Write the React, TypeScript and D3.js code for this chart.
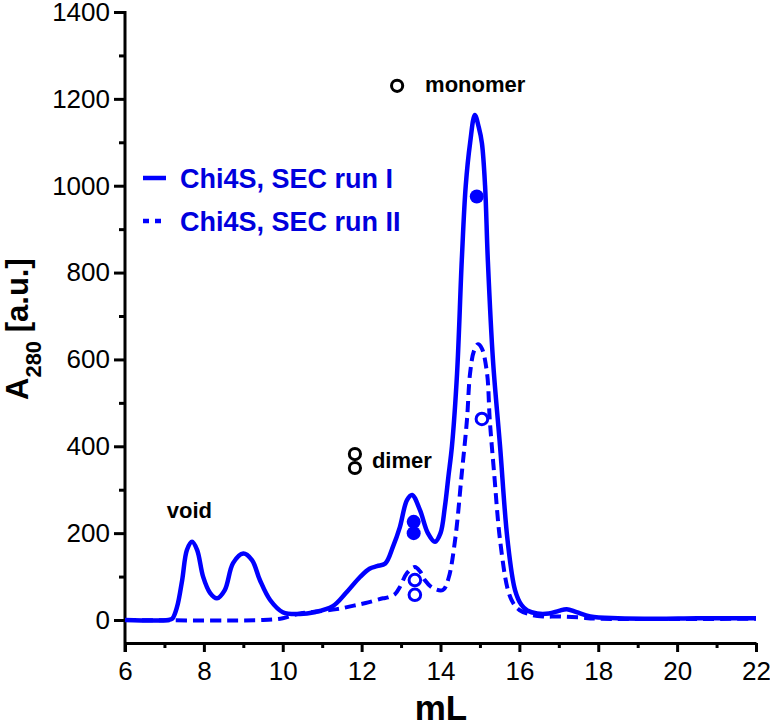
import { useEffect, useRef } from 'react';
import * as d3 from 'd3';

// elution volume (mL) vs A280 [a.u.]
const runI: [number, number][] = [
  [6.0, 0], [7.1, 0], [7.2, 3], [7.32, 30], [7.45, 92], [7.57, 161], [7.7, 180],
  [7.83, 161], [7.98, 100], [8.16, 62], [8.33, 50], [8.53, 69], [8.74, 131], [9.0, 153],
  [9.22, 138], [9.42, 92], [9.68, 46], [10.0, 18], [10.44, 14], [10.8, 18], [11.27, 32],
  [11.6, 62], [11.96, 99], [12.2, 118], [12.39, 124], [12.6, 130], [12.8, 170], [12.97, 214],
  [13.15, 276], [13.28, 288], [13.48, 253], [13.68, 200], [13.86, 180], [14.0, 200],
  [14.11, 260], [14.2, 330], [14.29, 400], [14.42, 568], [14.54, 829], [14.64, 1000],
  [14.75, 1098], [14.87, 1163], [14.97, 1135], [15.05, 1098], [15.13, 1000], [15.2, 829],
  [15.33, 599], [15.51, 400], [15.7, 184], [15.89, 69], [16.05, 35], [16.2, 22], [16.45, 15],
  [16.75, 15], [17.0, 21], [17.2, 25], [17.45, 18], [17.8, 8], [18.5, 4], [19.5, 3],
  [20.5, 4], [22.0, 4],
];

const runII: [number, number][] = [
  [6.0, 0], [9.5, 0], [10.0, 4], [10.26, 11], [10.44, 15], [10.8, 19], [11.37, 25],
  [11.8, 33], [12.1, 39], [12.54, 50], [12.67, 52], [12.85, 60], [12.97, 76], [13.15, 108],
  [13.35, 122], [13.48, 112], [13.6, 92], [13.8, 74], [14.06, 69], [14.2, 95], [14.37, 184],
  [14.54, 338], [14.67, 460], [14.75, 568], [14.85, 620], [14.95, 635], [15.05, 625],
  [15.18, 568], [15.25, 460], [15.36, 338], [15.51, 184], [15.71, 69], [15.85, 38],
  [16.0, 23], [16.3, 12], [16.6, 8], [17.0, 8], [17.5, 6], [18.0, 3], [22.0, 3],
];

// collected fractions
const runIFractions: [number, number][] = [[14.92, 975], [13.32, 226], [13.32, 200]];
const runIIFractions: [number, number][] = [[15.05, 463], [13.35, 92], [13.35, 58]];

// open black symbols next to peak names
const peakSymbols: [number, number][] = [[12.9, 1230], [11.83, 382], [11.83, 350]];
const peakNames = ['void', 'dimer', 'monomer'];
const peakNamePos: [number, number][] = [[7.06, 235], [12.26, 350], [13.61, 1216]];

const xTicks = [6, 8, 10, 12, 14, 16, 18, 20, 22];
const xMinorTicks = [7, 9, 11, 13, 15, 17, 19, 21];
const yTicks = [0, 200, 400, 600, 800, 1000, 1200, 1400];
const yMinorTicks = [100, 300, 500, 700, 900, 1100, 1300];
const legendLabels = ['Chi4S, SEC run I', 'Chi4S, SEC run II'];

const BLUE = '#0000ff';
const FONT = '"Liberation Sans", Arial, sans-serif';

export default function App() {
  const ref = useRef<SVGSVGElement | null>(null);

  useEffect(() => {
    if (!ref.current) return;
    const svg = d3.select(ref.current);
    svg.selectAll('*').remove();

    const x = d3.scaleLinear().domain([6, 22]).range([125, 756]);
    const y = d3.scaleLinear().domain([0, 1400]).range([620, 12]);
    const axisY = 643;

    // x axis
    const gx = svg.append('g').attr('transform', `translate(0,${axisY})`);
    gx.call(d3.axisBottom(x).tickValues(xTicks).tickFormat(d3.format('d')).tickSize(9).tickSizeOuter(0).tickPadding(10));
    gx.append('g').call(d3.axisBottom(x).tickValues(xMinorTicks).tickFormat(() => '').tickSize(5).tickSizeOuter(0))
      .select('.domain').remove();
    gx.selectAll('path, line').attr('stroke', '#000').attr('stroke-width', 3);
    gx.selectAll('text').attr('font-family', FONT).attr('font-size', 26).attr('fill', '#000');

    // y axis
    const gy = svg.append('g').attr('transform', 'translate(125,0)');
    gy.call(d3.axisLeft(y).tickValues(yTicks).tickFormat(d3.format('d')).tickSize(11).tickPadding(4));
    gy.append('g').call(d3.axisLeft(y).tickValues(yMinorTicks).tickFormat(() => '').tickSize(6));
    gy.selectAll('.domain').remove();
    gy.selectAll('line').attr('stroke', '#000').attr('stroke-width', 3);
    gy.selectAll('text').attr('font-family', FONT).attr('font-size', 26).attr('fill', '#000');
    svg.append('line')
      .attr('x1', 125).attr('x2', 125).attr('y1', 11).attr('y2', axisY + 9)
      .attr('stroke', '#000').attr('stroke-width', 3);

    // axis titles
    svg.append('text')
      .attr('x', 441).attr('y', 720)
      .attr('text-anchor', 'middle')
      .attr('font-family', FONT).attr('font-weight', 'bold').attr('font-size', 35)
      .text('mL');

    const yl = svg.append('text')
      .attr('transform', 'translate(28,400) rotate(-90)')
      .attr('font-family', FONT).attr('font-weight', 'bold').attr('font-size', 31);
    yl.append('tspan').text('A');
    yl.append('tspan').attr('font-size', 22).attr('dy', 13).text('280');
    yl.append('tspan').attr('dy', -13).text(' [a.u.]');

    // curves
    const line = d3.line<[number, number]>()
      .x(d => x(d[0]))
      .y(d => y(d[1]))
      .curve(d3.curveCatmullRom.alpha(0.5));

    svg.append('path')
      .datum(runII)
      .attr('d', line)
      .attr('fill', 'none')
      .attr('stroke', BLUE)
      .attr('stroke-width', 4)
      .attr('stroke-dasharray', '11,6');

    svg.append('path')
      .datum(runI)
      .attr('d', line)
      .attr('fill', 'none')
      .attr('stroke', BLUE)
      .attr('stroke-width', 4.5)
      .attr('stroke-linejoin', 'round');

    // fraction markers
    svg.selectAll('.fracI')
      .data(runIFractions)
      .enter().append('circle')
      .attr('cx', d => x(d[0])).attr('cy', d => y(d[1]))
      .attr('r', 7).attr('fill', BLUE);

    svg.selectAll('.fracII')
      .data(runIIFractions)
      .enter().append('circle')
      .attr('cx', d => x(d[0])).attr('cy', d => y(d[1]))
      .attr('r', 5.8).attr('fill', '#fff')
      .attr('stroke', BLUE).attr('stroke-width', 3);

    // peak annotations
    svg.selectAll('.sym')
      .data(peakSymbols)
      .enter().append('circle')
      .attr('cx', d => x(d[0])).attr('cy', d => y(d[1]))
      .attr('r', 5.6).attr('fill', 'none')
      .attr('stroke', '#000').attr('stroke-width', 3);

    svg.selectAll('.peakname')
      .data(peakNames)
      .enter().append('text')
      .attr('x', (_, i) => x(peakNamePos[i][0]))
      .attr('y', (_, i) => y(peakNamePos[i][1]))
      .attr('font-family', FONT).attr('font-weight', 'bold').attr('font-size', 22)
      .attr('fill', '#000')
      .text(d => d);

    // legend
    const lg = svg.append('g');
    lg.append('line').attr('x1', 143).attr('x2', 166).attr('y1', 178).attr('y2', 178)
      .attr('stroke', BLUE).attr('stroke-width', 4.5);
    lg.append('line').attr('x1', 143).attr('x2', 162).attr('y1', 221).attr('y2', 221)
      .attr('stroke', BLUE).attr('stroke-width', 4.5).attr('stroke-dasharray', '6,6');
    lg.selectAll('text')
      .data(legendLabels)
      .enter().append('text')
      .attr('x', 180)
      .attr('y', (_, i) => 188 + i * 43)
      .attr('font-family', FONT).attr('font-weight', 'bold').attr('font-size', 27)
      .attr('fill', '#0000dd')
      .text(d => d);
  }, []);

  return (
    <div style={{ position: 'absolute', left: 0, top: 0, background: '#fff' }}>
      <svg ref={ref} width={770} height={727} />
    </div>
  );
}
